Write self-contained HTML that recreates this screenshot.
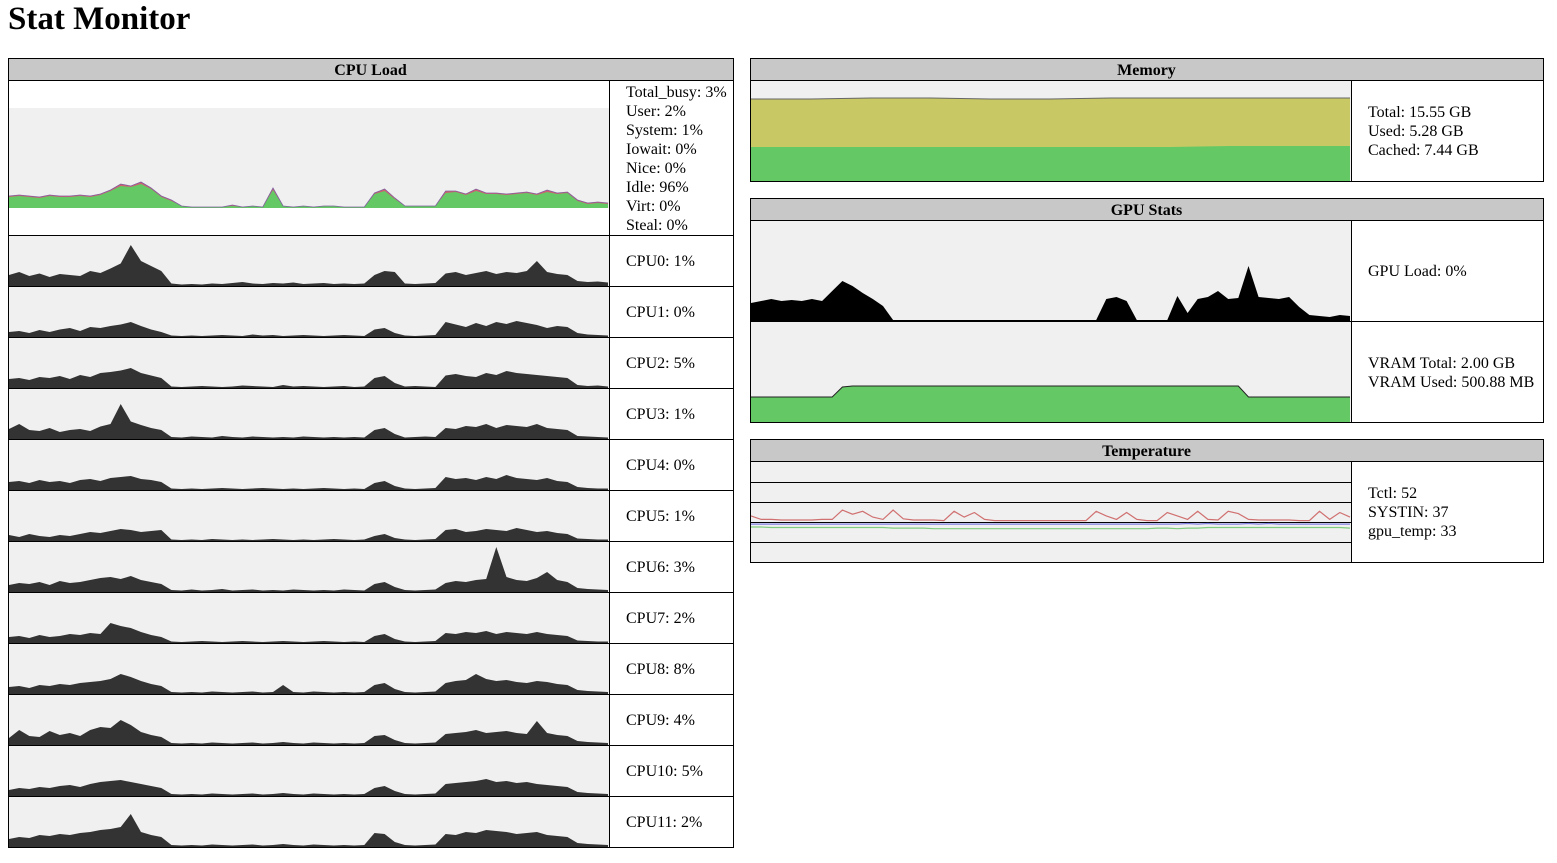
<!DOCTYPE html>
<html><head><meta charset="utf-8"><style>
html,body{margin:0;padding:0;background:#fff;width:1557px;height:863px;overflow:hidden}
svg{display:block;font-family:"Liberation Serif",serif}
</style></head><body>
<svg id="s" width="1557" height="863" xmlns="http://www.w3.org/2000/svg">
<text x="8" y="29" font-size="33" font-weight="bold">Stat Monitor</text>
</svg>
<script>
const cpuUser=[11,12,11,10,12,11,11,12,11,13,17,22,21,24,19,11,7,2,1,1,1,1,2,1,2,1,18,2,1,2,1,2,2,1,1,1,14,17,9,2,2,2,2,15,16,13,17,14,14,13,14,15,13,16,14,15,7,4,5,4];
const cpuSystem=[1,1,1,1,1,1,1,1,1,1,1,2,1,2,1,1,1,0,0,0,0,0,1,0,0,0,2,0,0,0,0,0,0,0,0,0,1,2,1,0,0,0,0,2,1,1,2,1,1,1,1,1,1,2,1,1,1,1,1,1];
const cpuStatLabels=["Total_busy: 3%","User: 2%","System: 1%","Iowait: 0%","Nice: 0%","Idle: 96%","Virt: 0%","Steal: 0%"];
const coreLabels=["CPU0: 1%","CPU1: 0%","CPU2: 5%","CPU3: 1%","CPU4: 0%","CPU5: 1%","CPU6: 3%","CPU7: 2%","CPU8: 8%","CPU9: 4%","CPU10: 5%","CPU11: 2%"];
const core0=[22,28,20,25,18,24,22,20,30,26,35,45,82,50,40,30,5,3,4,3,5,4,6,8,5,4,6,5,7,4,5,6,4,5,4,5,22,30,28,5,4,5,6,25,28,22,26,30,24,28,26,30,50,28,24,22,10,8,9,7];
const core1=[10,12,8,14,10,15,18,12,20,18,22,25,30,22,15,10,3,2,3,2,3,4,3,2,5,3,4,2,3,4,3,2,3,4,3,2,15,18,8,3,2,3,4,30,25,20,28,22,30,26,32,28,24,18,22,20,8,5,4,3];
const core2=[18,20,16,22,20,24,18,26,22,30,32,35,40,30,25,20,3,2,3,4,3,2,3,5,4,3,2,6,3,4,3,2,3,4,2,3,20,24,10,3,4,3,2,25,28,24,22,30,26,34,30,28,26,24,22,20,6,4,5,3];
const core3=[20,30,18,16,22,14,18,20,16,25,30,70,35,28,22,18,4,3,5,4,3,6,4,3,5,4,3,4,3,5,4,3,4,3,4,3,18,22,10,3,4,5,4,22,20,26,24,30,22,28,26,24,30,22,20,18,6,5,4,3];
const core4=[16,18,14,20,16,18,14,20,22,18,24,26,28,22,20,16,3,2,3,2,3,4,3,2,3,4,3,2,3,2,3,4,3,2,3,2,14,18,8,3,2,3,4,26,22,24,20,26,22,30,24,22,20,24,18,16,6,4,3,3];
const core5=[12,8,14,10,8,12,10,14,18,16,20,24,22,18,20,22,3,2,3,2,4,3,2,3,2,3,4,3,2,3,2,3,4,3,2,3,10,14,6,3,2,3,4,22,24,18,20,24,22,20,26,22,18,20,16,14,5,4,3,3];
const core6=[14,18,16,20,14,22,18,20,24,28,30,26,32,24,20,16,4,3,5,3,4,6,3,4,5,3,4,3,5,4,3,4,3,5,4,3,16,20,10,4,3,4,5,18,22,20,24,26,90,30,24,22,28,40,24,20,8,6,5,4];
const core7=[12,14,10,16,12,14,18,16,20,18,40,34,30,22,16,12,3,2,3,4,3,2,3,4,3,2,3,4,3,2,3,4,3,2,3,2,14,18,8,3,2,3,4,20,18,22,20,24,18,22,20,18,22,18,16,14,5,4,3,3];
const core8=[14,16,12,18,16,20,18,22,24,26,30,40,34,26,20,16,4,3,4,3,5,4,3,4,5,3,4,18,4,3,5,4,3,4,3,4,18,22,10,4,3,4,5,22,26,28,40,30,26,28,24,22,26,24,20,18,8,6,5,4];
const core9=[14,30,18,16,28,20,24,18,30,36,34,50,40,26,20,16,4,3,4,3,5,4,3,4,5,3,4,6,4,3,5,4,3,4,3,4,18,20,10,4,3,4,5,22,24,26,30,24,26,28,24,22,48,24,20,18,8,6,5,4];
const core10=[12,16,14,18,16,20,22,18,24,28,30,32,28,24,20,16,4,3,4,3,5,4,3,4,5,3,4,6,4,3,5,4,3,4,3,4,16,20,10,4,3,4,5,24,26,28,30,34,28,30,26,28,24,22,20,18,8,6,5,4];
const core11=[16,20,18,24,22,26,24,28,30,34,36,40,66,30,24,20,4,3,4,3,5,4,3,4,5,3,4,6,4,3,5,4,3,4,3,4,28,26,10,4,3,4,5,26,24,30,28,34,32,30,26,28,30,24,22,20,8,6,5,4];
const memUsed=[34,34,34,34,34,34,34,34,35,35,35];
const memCachedTop=[82,82,83,83,82,82,83,83,83,83,83];
const memLabels=["Total: 15.55 GB","Used: 5.28 GB","Cached: 7.44 GB"];
const gpuLoad=[18,20,22,20,21,20,22,20,30,40,35,28,22,15,1,1,1,1,1,1,1,1,1,1,1,1,1,1,1,1,1,1,1,1,1,22,24,20,1,1,1,1,25,8,22,24,30,22,23,55,24,23,22,24,14,6,5,4,6,5];
const vramUsed=[25,25,25,25,25,25,25,25,25,35,36,36,36,36,36,36,36,36,36,36,36,36,36,36,36,36,36,36,36,36,36,36,36,36,36,36,36,36,36,36,36,36,36,36,36,36,36,36,36,25,25,25,25,25,25,25,25,25,25,25];
const tctl=[52,46,46,45,45,45,45,46,46,62,55,60,50,46,62,47,45,45,45,44,60,50,58,46,44,44,44,44,44,44,44,44,44,44,60,52,46,58,46,44,44,58,52,46,60,46,45,60,56,46,45,45,45,45,44,44,60,46,58,50];
const systin=[38,38,38,38,38,38,38,38,38,38,38,38,38,38,38,38,38,38,38,38,38,38,38,38,38,38,38,38,38,38,38,38,38,38,38,38,38,38,38,38,38,38,38,39,38,39,38,38,38,39,38,39,38,38,38,38,38,38,38,38];
const gpuTemp=[33,33,32,32,32,32,32,32,32,32,32,32,32,32,31,31,31,31,30,30,30,30,30,30,30,30,30,30,30,30,30,30,30,30,30,30,30,30,30,30,31,31,30,31,31,32,32,32,32,32,32,32,32,32,32,32,32,32,32,31];
const tempLabels=["Tctl: 52","SYSTIN: 37","gpu_temp: 33"];

const S=document.getElementById('s');
const NS='http://www.w3.org/2000/svg';
function mk(tag,attrs){const e=document.createElementNS(NS,tag);for(const k in attrs)e.setAttribute(k,attrs[k]);S.appendChild(e);return e;}
function xs(x0,w,n){return i=>x0+i*w/(n-1);}
function ys(y0,h,dmin,dmax){return v=>y0+h-(v-dmin)/(dmax-dmin)*h;}
function areaPath(arr,x,y,base){let d='M'+x(0)+' '+base;arr.forEach((v,i)=>{d+=' L'+x(i).toFixed(1)+' '+y(v).toFixed(1);});return d+' L'+x(arr.length-1)+' '+base+' Z';}
function linePath(arr,x,y){return arr.map((v,i)=>(i?'L':'M')+x(i).toFixed(1)+' '+y(v).toFixed(1)).join(' ');}
function panel(name,title,x,y,w,h,divX){
  const r=mk('rect',{x:x+.5,y:y+.5,width:w,height:h,fill:'#fff',stroke:'#000'});
  
  
  const hd=mk('rect',{x:x+1,y:y+1,width:w-1,height:21,fill:'#c8c8c8'});
  
  
  mk('line',{x1:x,x2:x+w+1,y1:y+22.5,y2:y+22.5,stroke:'#000'});
  const t=mk('text',{x:x+w/2,y:y+17,'text-anchor':'middle','font-size':16,'font-weight':'bold'});
  t.textContent=title;
  
  
  mk('line',{x1:divX+.5,x2:divX+.5,y1:y+23,y2:y+h,stroke:'#000'});
}
function label(txt,x,y,name){const t=mk('text',{x:x,y:y,'font-size':16});t.textContent=txt;
  
  }
function bg(x,y,w,h,name){const r=mk('rect',{x:x,y:y,width:w,height:h,fill:'#f0f0f0'});
  
  }

// CPU
panel('cpu-load','CPU Load',8,58,725,789,609);
bg(9,108,600,100,'cpu-total-chart');
{const x=xs(9,599,cpuUser.length),y=ys(108,100,0,100);
 const tot=cpuUser.map((v,i)=>v+cpuSystem[i]);
 const a2=mk('path',{d:areaPath(tot,x,y,208),fill:'#d06070'});
 
 
 const a1=mk('path',{d:areaPath(cpuUser,x,y,208),fill:'#64c864'});
 
 
 const l=mk('path',{d:linePath(tot,x,y),fill:'none',stroke:'#8060a0','stroke-width':0.8});
 
 }
cpuStatLabels.forEach((s,i)=>label(s,626,97+i*19,'cpu-stat-'+i));
const cores=[core0,core1,core2,core3,core4,core5,core6,core7,core8,core9,core10,core11];
cores.forEach((c,k)=>{
  const top=236+51*k;
  mk('line',{x1:8,x2:734,y1:top-.5,y2:top-.5,stroke:'#000'});
  bg(9,top,600,50,'cpu'+k+'-chart');
  const x=xs(9,599,c.length),y=ys(top,50,0,100);
  const p=mk('path',{d:areaPath(c,x,y,top+50),fill:'#333'});
  
  
  label(coreLabels[k],626,top+30,'cpu'+k+'-value');
});
mk('line',{x1:609.5,x2:609.5,y1:81,y2:847,stroke:'#000'});

// Memory
panel('memory','Memory',750,58,793,123,1351);
bg(751,81,600,100,'memory-chart');
{const x=xs(751,599,memUsed.length),y=ys(81,100,0,100);
 const c=mk('path',{d:areaPath(memCachedTop,x,y,181),fill:'#c8c864'});
 
 
 const u=mk('path',{d:areaPath(memUsed,x,y,181),fill:'#64c864'});
 
 
 mk('path',{d:linePath(memCachedTop,x,y),fill:'none',stroke:'#666','stroke-width':1});}
memLabels.forEach((s,i)=>label(s,1368,117+i*19,'memory-stat-'+i));

// GPU
panel('gpu-stats','GPU Stats',750,198,793,224,1351);
bg(751,221,600,100,'gpu-load-chart');
bg(751,322,600,100,'vram-chart');
mk('line',{x1:750,x2:1544,y1:321.5,y2:321.5,stroke:'#000'});
{const x=xs(751,599,gpuLoad.length),y=ys(221,100,0,100);
 const g=mk('path',{d:areaPath(gpuLoad,x,y,321),fill:'#000'});
 
 
 const y2=ys(322,100,0,100);
 const v=mk('path',{d:areaPath(vramUsed,x,y2,422),fill:'#64c864'});
 
 
 mk('path',{d:linePath(vramUsed,x,y2),fill:'none',stroke:'#222','stroke-width':1});}
label('GPU Load: 0%',1368,276,'gpu-load-value');
label('VRAM Total: 2.00 GB',1368,368,'vram-total-value');
label('VRAM Used: 500.88 MB',1368,387,'vram-used-value');

// Temperature
panel('temperature','Temperature',750,439,793,123,1351);
bg(751,462,600,100,'temperature-chart');
[482,502,522,542].forEach(g=>mk('line',{x1:751,x2:1351,y1:g+.5,y2:g+.5,stroke:'#000'}));
{const x=xs(751,599,tctl.length),y=v=>520+(45-v)*0.58;
 [[tctl,'#d07070','tctl-line'],[systin,'#8080e0','systin-line'],[gpuTemp,'#80cc80','gpu-temp-line']].forEach(([a,c,n])=>{
  const p=mk('path',{d:linePath(a,x,y),fill:'none',stroke:c,'stroke-width':1.2});
  
  
 });}
tempLabels.forEach((s,i)=>label(s,1368,498+i*19,'temp-stat-'+i));
</script>
</body></html>
